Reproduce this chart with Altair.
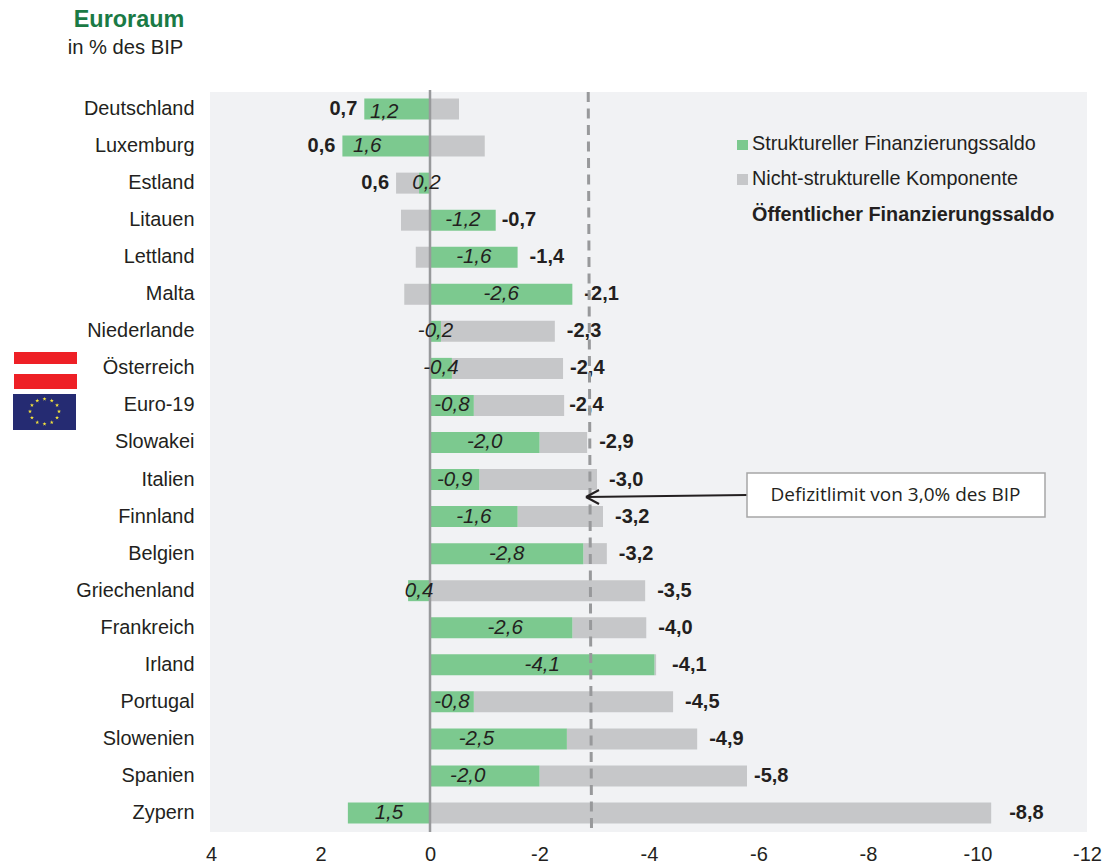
import math
import altair as alt
import numpy as np
import pandas as pd

# Budget balances in % of GDP, euro area
countries = ["Deutschland", "Luxemburg", "Estland", "Litauen", "Lettland", "Malta",
             "Niederlande", "Österreich", "Euro-19", "Slowakei", "Italien", "Finnland",
             "Belgien", "Griechenland", "Frankreich", "Irland", "Portugal", "Slowenien",
             "Spanien", "Zypern"]
structural = [1.2, 1.6, 0.2, -1.2, -1.6, -2.6, -0.2, -0.4, -0.8, -2.0, -0.9, -1.6,
              -2.8, 0.4, -2.6, -4.1, -0.8, -2.5, -2.0, 1.5]
non_structural = [-0.53, -1.0, 0.42, 0.53, 0.26, 0.47, -2.08, -2.03, -1.65, -0.87, -2.15, -1.56,
                  -0.43, -3.93, -1.35, -0.03, -3.64, -2.38, -3.79, -10.25]
balance = [0.7, 0.6, 0.6, -0.7, -1.4, -2.1, -2.3, -2.4, -2.4, -2.9, -3.0, -3.2,
           -3.2, -3.5, -4.0, -4.1, -4.5, -4.9, -5.8, -8.8]
x_ticks = [4, 2, 0, -2, -4, -6, -8, -10, -12]
limit_line = [-2.89, -2.95]

INK = "#231F20"
GREEN = "#7CC98F"
GREY = "#C6C7C9"
PANEL = "#F1F2F4"
LINE = "#98999B"
FONT = "Liberation Sans"

W, H = 877, 740
LEFT, TOP = 210, 92


def px(v):
    return v - LEFT


def py(v):
    return v - TOP


s = np.array(structural)
n = np.array(non_structural)
same_sign = np.sign(s) == np.sign(n)
df = pd.DataFrame({
    "land": countries,
    "s": s,
    "n": n,
    "total": balance,
    "grey_start": np.where(same_sign, s, 0.0),
    "grey_end": np.where(same_sign, s + n, n),
    "mid": s / 2,
    "s_label": [f"{v:.1f}".replace(".", ",") for v in structural],
    "total_label": [f"{v:.1f}".replace(".", ",") for v in balance],
})
df["left_end"] = df[["s", "grey_end"]].max(axis=1)
df["right_end"] = df[["s", "grey_end"]].min(axis=1)

x_scale = alt.Scale(domain=[4, -12], range=[1, W], nice=False, zero=False)
y_scale = alt.Scale(domain=countries, range=[-1.5, 739.5])
base = alt.Chart(df)
y_enc = alt.Y("land:N", scale=y_scale, title=None, sort=None,
              axis=alt.Axis(domain=False, ticks=False, grid=False, labelPadding=16,
                            labelFontSize=19.9, labelColor=INK, labelFont=FONT,
                            labelLimit=200))
x_enc = alt.X("grey_start:Q", scale=x_scale, title=None,
              axis=alt.Axis(values=x_ticks, domain=False, ticks=False, grid=False,
                            labelFontSize=20, labelColor=INK, labelFont=FONT,
                            labelPadding=12, labelExpr="'' + datum.value",
                            labelFlush=False, labelOverlap=False))
y_plain = alt.Y("land:N", scale=y_scale, sort=None)

grey_bars = base.mark_bar(size=21, color=GREY).encode(x=x_enc, x2="grey_end:Q", y=y_enc)
green_bars = base.mark_bar(size=21, color=GREEN).encode(
    x=alt.X("s:Q", scale=x_scale), x2=alt.datum(0), y=y_plain)

zero_line = alt.Chart(pd.DataFrame({"v": [0]})).mark_rule(color=LINE, strokeWidth=2.5).encode(
    x=alt.X("v:Q", scale=x_scale), y=alt.value(-2), y2=alt.value(H))

limit_rule = alt.Chart(pd.DataFrame({"a": [limit_line[0]], "b": [limit_line[1]]})).mark_rule(
    color=LINE, strokeWidth=3, strokeDash=[10, 6.5]).encode(
    x=alt.X("a:Q", scale=x_scale), x2="b:Q", y=alt.value(0), y2=alt.value(H))

# Italic structural values sit mid-bar, a few rows are shifted to clear other marks
label_shift = {"Deutschland": (-13, 3), "Luxemburg": (-19, 0), "Estland": (2, 0),
               "Spanien": (-17, 0), "Slowenien": (-22, 0), "Frankreich": (4, 0)}
mid_labels = [
    base.transform_filter({"not": {"field": "land", "oneOf": list(label_shift)}})
    .mark_text(font=FONT, fontSize=20.5, fontStyle="italic", color=INK)
    .encode(x=alt.X("mid:Q", scale=x_scale), y=y_plain, text="s_label:N")
]
for land, (dx, dy) in label_shift.items():
    mid_labels.append(
        base.transform_filter(alt.datum.land == land)
        .mark_text(font=FONT, fontSize=20.5, fontStyle="italic", color=INK, dx=dx, dy=dy)
        .encode(x=alt.X("mid:Q", scale=x_scale), y=y_plain, text="s_label:N"))

positive_totals = base.transform_filter(alt.datum.total > 0).mark_text(
    font=FONT, fontSize=20, fontWeight="bold", color=INK, align="right", dx=-7).encode(
    x=alt.X("left_end:Q", scale=x_scale), y=y_plain, text="total_label:N")

# Bold totals follow the bar end; some rows keep a wider or narrower gap
total_gap = {"Litauen": 6, "Österreich": 7, "Euro-19": 5, "Irland": 16, "Spanien": 7, "Zypern": 18}
negative_totals = [
    base.transform_filter({"and": [{"field": "total", "lt": 0},
                                   {"not": {"field": "land", "oneOf": list(total_gap)}}]})
    .mark_text(font=FONT, fontSize=20, fontWeight="bold", color=INK, align="left", dx=12)
    .encode(x=alt.X("right_end:Q", scale=x_scale), y=y_plain, text="total_label:N")
]
for land, gap in total_gap.items():
    negative_totals.append(
        base.transform_filter(alt.datum.land == land)
        .mark_text(font=FONT, fontSize=20, fontWeight="bold", color=INK, align="left", dx=gap)
        .encode(x=alt.X("right_end:Q", scale=x_scale), y=y_plain, text="total_label:N"))


def rect(x0, x1, y0, y1, color, **kw):
    return alt.Chart(pd.DataFrame({"k": [0]})).mark_rect(color=color, **kw).encode(
        x=alt.value(px(x0)), x2=alt.value(px(x1)), y=alt.value(py(y0)), y2=alt.value(py(y1)))


def seg(x0, y0, x1, y1):
    return alt.Chart(pd.DataFrame({"k": [0]})).mark_rule(color=INK, strokeWidth=2).encode(
        x=alt.value(px(x0)), x2=alt.value(px(x1)), y=alt.value(py(y0)), y2=alt.value(py(y1)))


def label(x, y, text, size=19.8, align="left", color=INK, weight="normal", font=FONT):
    return alt.Chart(pd.DataFrame({"t": [text]})).mark_text(
        font=font, fontSize=size, align=align, baseline="middle", color=color,
        fontWeight=weight).encode(x=alt.value(px(x)), y=alt.value(py(y)), text="t:N")


# Heading
heading = [
    label(129, 20, "Euroraum", size=23.4, align="center", color="#1A7A45", weight="bold"),
    label(125.5, 48, "in % des BIP", size=20.2, align="center"),
]

# Hand-placed key inside the panel
key = [
    rect(737, 748, 140, 150, GREEN),
    rect(737, 748, 174, 185, GREY),
    label(752, 144, "Struktureller Finanzierungssaldo"),
    label(752, 179, "Nicht-strukturelle Komponente"),
    label(752, 215, "Öffentlicher Finanzierungssaldo", weight="bold"),
]

# Callout for the 3 % deficit limit
callout = [
    seg(747, 495, 586, 497),
    seg(586, 497, 599, 490),
    seg(586, 497, 599, 504),
    rect(747, 1045, 473, 517, "white", stroke="#A6A6A6", strokeWidth=1.5),
    label(895.5, 495, "Defizitlimit von 3,0% des BIP", size=19, align="center", font="Open Sans"),
]

# Flags beside the Austria and euro-area rows
stars = pd.DataFrame({
    "sx": [px(44.5 + 14.5 * math.sin(i * math.pi / 6)) for i in range(12)],
    "sy": [py(411.5 - 12.5 * math.cos(i * math.pi / 6)) for i in range(12)],
})
star_path = "M0,-1L0.24,-0.31L0.95,-0.31L0.38,0.12L0.59,0.81L0,0.4L-0.59,0.81L-0.38,0.12L-0.95,-0.31L-0.24,-0.31Z"
flags = [
    rect(14, 77, 352, 364, "#EE2026"),
    rect(14, 77, 374, 389, "#EE2026"),
    rect(13, 76, 394, 430, "#252B72"),
    alt.Chart(stars).mark_point(shape=star_path, filled=True, color="#F4E33B", size=18, opacity=1).encode(
        x=alt.X("sx:Q", scale=None), y=alt.Y("sy:Q", scale=None)),
]

chart = alt.layer(
    grey_bars, green_bars, zero_line,
    *mid_labels, positive_totals, *negative_totals, limit_rule,
    *heading, *key, *callout, *flags,
).resolve_scale(x="shared", y="shared").properties(
    width=W, height=H,
    autosize=alt.AutoSizeParams(type="none"),
    padding={"left": LEFT, "top": TOP, "right": 20, "bottom": 34},
    background="white",
).configure_view(fill=PANEL, stroke=None)

chart.save("out.html", embed_options={"renderer": "svg", "actions": False})
